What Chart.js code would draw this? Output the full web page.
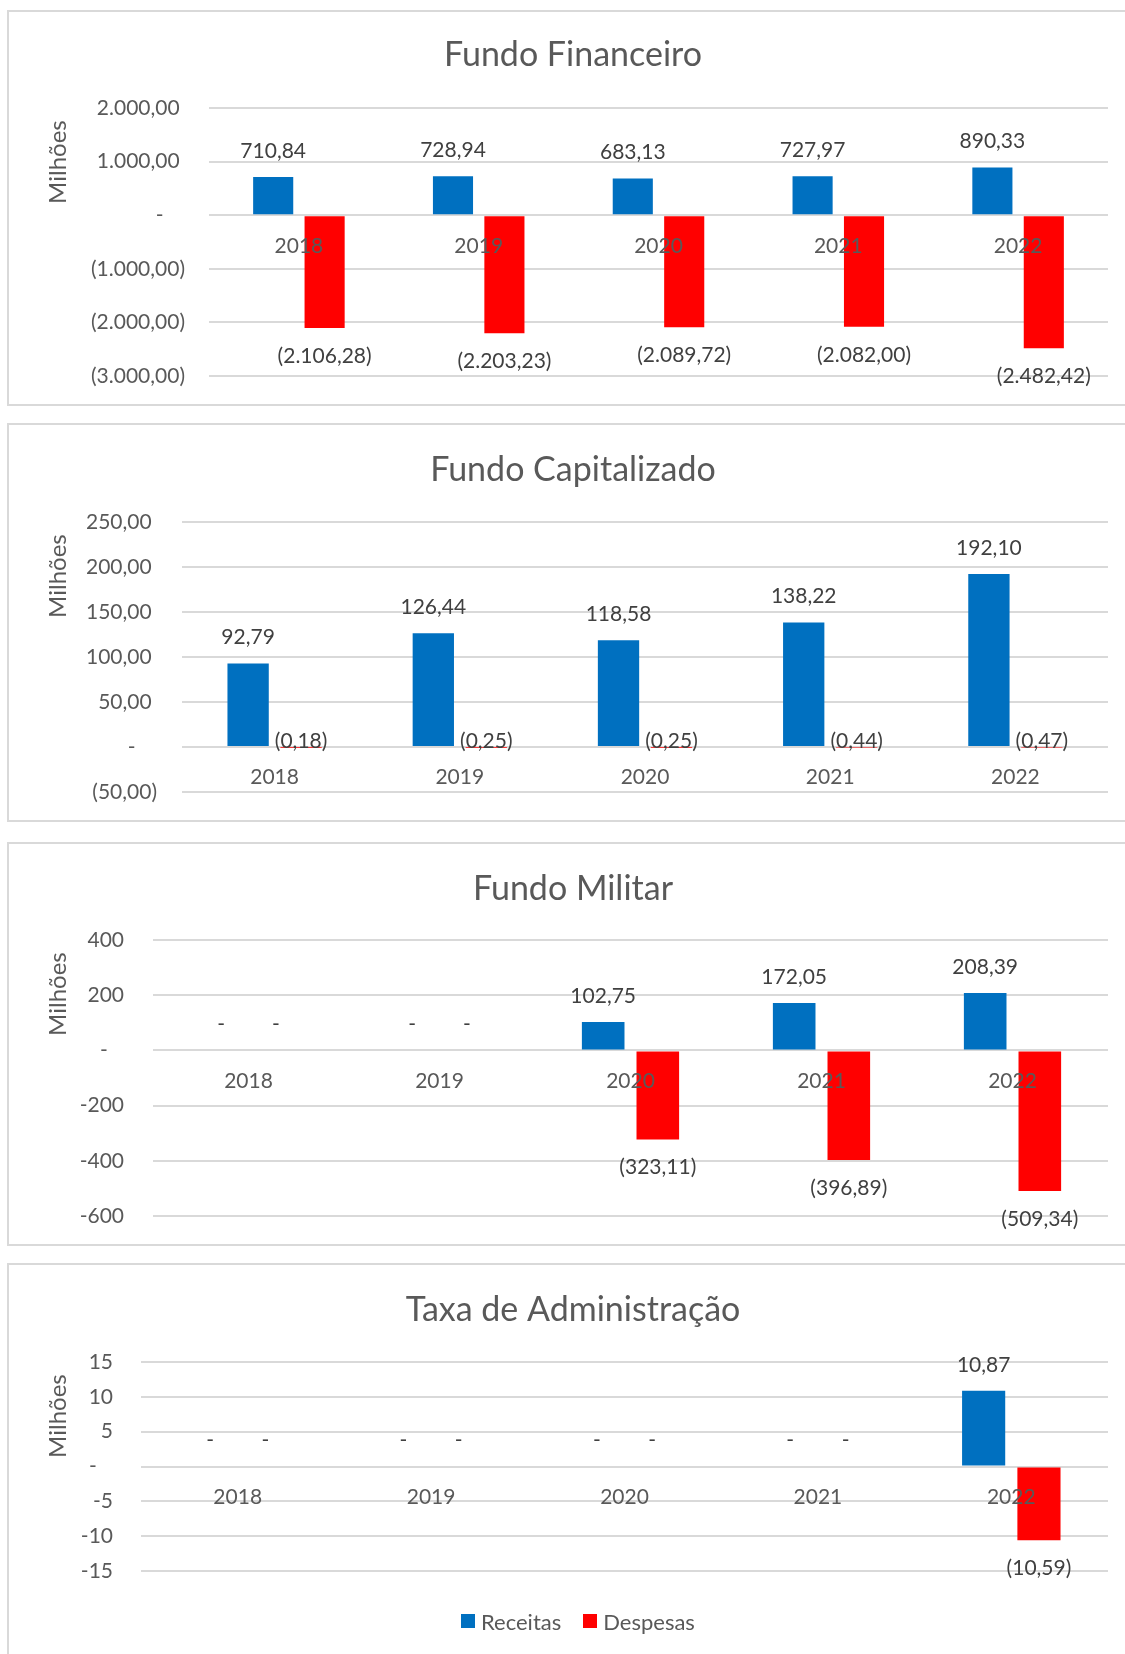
<!DOCTYPE html>
<html lang="pt-BR">
<head>
<meta charset="utf-8">
<title>Receitas e Despesas por Fundo</title>
<script src="https://cdn.jsdelivr.net/npm/chart.js@4.4.1/dist/chart.umd.min.js"></script>
<style>
    html, body { margin: 0; padding: 0; background: #fff; }
    body { position: relative; width: 1125px; height: 1654px; overflow: hidden; font-family: Lato, sans-serif; }
    .painel { position: absolute; left: 7px; width: 1140px; border: 2px solid #d9d9d9; box-sizing: border-box; }
    canvas { position: absolute; left: 7px; }
    .legenda { position: absolute; top: 1608px; left: 461px; height: 26px; display: flex; align-items: center; font-size: 22px; color: #595959; }
    .legenda .item { display: flex; align-items: center; margin-right: 22px; }
    .legenda .caixa { width: 14px; height: 14px; margin-right: 6px; }
</style>
</head>
<body>
<div class="painel" style="top:10px;height:396px"></div>
<div class="painel" style="top:423px;height:399px"></div>
<div class="painel" style="top:842px;height:404px"></div>
<div class="painel" style="top:1263px;height:420px"></div>

<canvas id="graficoFinanceiro" width="1130" height="394" style="top:10px"></canvas>
<canvas id="graficoCapitalizado" width="1130" height="399" style="top:423px"></canvas>
<canvas id="graficoMilitar" width="1130" height="403" style="top:842px"></canvas>
<canvas id="graficoTaxa" width="1130" height="391" style="top:1263px"></canvas>

<div class="legenda">
    <div class="item"><span class="caixa" style="background:#0070C0"></span>Receitas</div>
    <div class="item"><span class="caixa" style="background:#FF0000"></span>Despesas</div>
</div>

<script>
// Dados (milhões de R$)
const anos = ['2018', '2019', '2020', '2021', '2022'];

const receitasFinanceiro = [710.84, 728.94, 683.13, 727.97, 890.33];
const despesasFinanceiro = [-2106.28, -2203.23, -2089.72, -2082.00, -2482.42];

const receitasCapitalizado = [92.79, 126.44, 118.58, 138.22, 192.10];
const despesasCapitalizado = [-0.18, -0.25, -0.25, -0.44, -0.47];

const receitasMilitar = [0, 0, 102.75, 172.05, 208.39];
const despesasMilitar = [0, 0, -323.11, -396.89, -509.34];

const receitasTaxa = [0, 0, 0, 0, 10.87];
const despesasTaxa = [0, 0, 0, 0, -10.59];

const corReceitas = '#0070C0';
const corDespesas = '#FF0000';
const corTexto = '#595959';

Chart.defaults.font.family = 'Lato';
Chart.defaults.color = corTexto;

/**
 * Formata número no padrão brasileiro (1.234,56)
 */
function formatarNumero(v, casas) {
    const partes = Math.abs(v).toFixed(casas).split('.');
    partes[0] = partes[0].replace(/\B(?=(\d{3})+(?!\d))/g, '.');
    return partes.join(',');
}

function formatoContabil(v) {
    if (v === 0) return '-';
    return v < 0 ? '(' + formatarNumero(v, 2) + ')' : formatarNumero(v, 2);
}

function tickContabil(v) {
    if (v === 0) return '-    ';
    return v < 0 ? '(' + formatarNumero(v, 2) + ')' : formatarNumero(v, 2) + ' ';
}

function tickInteiro(v) {
    if (v === 0) return '-   ';
    return String(v);
}

/**
 * Rótulos de valor acima/abaixo das barras
 */
const rotulosValores = {
    id: 'rotulosValores',
    afterDatasetsDraw(chart, args, opts) {
        const ctx = chart.ctx;
        ctx.save();
        ctx.font = '21px Lato';
        ctx.fillStyle = '#404040';
        ctx.textAlign = 'center';
        ctx.textBaseline = 'middle';
        chart.data.datasets.forEach((ds, i) => {
            chart.getDatasetMeta(i).data.forEach((barra, j) => {
                const v = ds.data[j];
                const y = v < 0 ? barra.y + opts.abaixo : barra.y - opts.acima;
                ctx.fillText(formatoContabil(v), barra.x, y);
            });
        });
        ctx.restore();
    }
};

function criarGrafico(id, cfg) {
    const el = document.getElementById(id);
    if (!el) return;

    return new Chart(el.getContext('2d'), {
        type: 'bar',
        data: {
            labels: anos,
            datasets: [
                {
                    label: 'Receitas',
                    data: cfg.receitas,
                    backgroundColor: corReceitas,
                    categoryPercentage: 0.572,
                    barPercentage: 0.78
                },
                {
                    label: 'Despesas',
                    data: cfg.despesas,
                    backgroundColor: corDespesas,
                    categoryPercentage: 0.572,
                    barPercentage: 0.78
                }
            ]
        },
        plugins: [rotulosValores],
        options: {
            responsive: false,
            animation: false,
            devicePixelRatio: 1,
            layout: {
                padding: { left: 31, right: 29, top: 0, bottom: cfg.margemInferior }
            },
            plugins: {
                legend: { display: false },
                tooltip: { enabled: false },
                title: {
                    display: true,
                    text: cfg.titulo,
                    color: corTexto,
                    font: { size: 34, weight: 'normal', lineHeight: 1 },
                    padding: { top: cfg.tituloTopo, bottom: cfg.tituloBase }
                },
                rotulosValores: { acima: 26, abaixo: cfg.rotuloAbaixo }
            },
            scales: {
                x: {
                    position: { y: 0 },
                    grid: { display: false, drawTicks: false },
                    border: { display: false },
                    ticks: {
                        z: 1,
                        color: corTexto,
                        font: { size: 21 },
                        padding: 18,
                        maxRotation: 0,
                        autoSkip: false
                    }
                },
                y: {
                    min: cfg.min,
                    max: cfg.max,
                    afterFit: (escala) => { escala.width = cfg.larguraEixo; },
                    grid: {
                        color: '#d9d9d9',
                        lineWidth: 2,
                        drawTicks: true,
                        tickLength: cfg.espacoTick,
                        tickColor: 'transparent'
                    },
                    border: { display: false },
                    ticks: {
                        stepSize: cfg.passo,
                        color: corTexto,
                        font: { size: 21 },
                        padding: 0,
                        callback: cfg.formatoTick
                    },
                    title: {
                        display: true,
                        text: 'Milhões  ',
                        align: 'end',
                        color: corTexto,
                        font: { size: 24, lineHeight: 1 },
                        padding: { top: 8, bottom: 0 }
                    }
                }
            }
        }
    });
}

criarGrafico('graficoFinanceiro', {
    titulo: 'Fundo Financeiro',
    receitas: receitasFinanceiro,
    despesas: despesasFinanceiro,
    min: -3000, max: 2000, passo: 1000,
    formatoTick: tickContabil,
    larguraEixo: 171, espacoTick: 24,
    tituloTopo: 28, tituloBase: 36, margemInferior: 28,
    rotuloAbaixo: 28
});

criarGrafico('graficoCapitalizado', {
    titulo: 'Fundo Capitalizado',
    receitas: receitasCapitalizado,
    despesas: despesasCapitalizado,
    min: -50, max: 250, passo: 50,
    formatoTick: tickContabil,
    larguraEixo: 144, espacoTick: 25,
    tituloTopo: 30, tituloBase: 35, margemInferior: 30,
    rotuloAbaixo: -6
});

criarGrafico('graficoMilitar', {
    titulo: 'Fundo Militar',
    receitas: receitasMilitar,
    despesas: despesasMilitar,
    min: -600, max: 400, passo: 200,
    formatoTick: tickInteiro,
    larguraEixo: 115, espacoTick: 29,
    tituloTopo: 30, tituloBase: 34, margemInferior: 29,
    rotuloAbaixo: 28
});

criarGrafico('graficoTaxa', {
    titulo: 'Taxa de Administração',
    receitas: receitasTaxa,
    despesas: despesasTaxa,
    min: -15, max: 15, passo: 5,
    formatoTick: tickInteiro,
    larguraEixo: 103, espacoTick: 28,
    tituloTopo: 30, tituloBase: 35, margemInferior: 83,
    rotuloAbaixo: 28
});
</script>
</body>
</html>
